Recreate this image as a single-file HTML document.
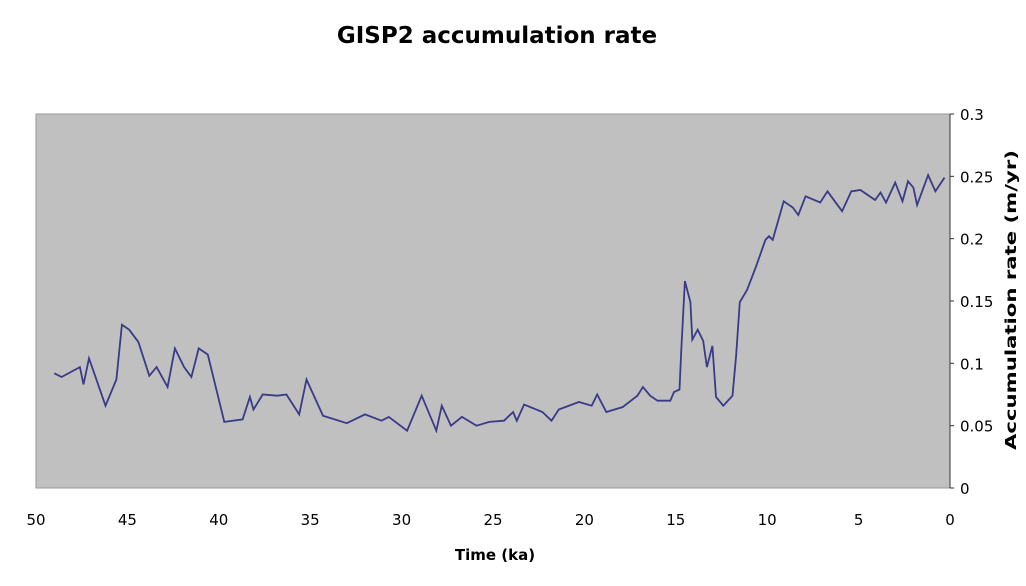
<!DOCTYPE html>
<html><head><meta charset="utf-8"><style>
body{margin:0;background:#fff;}
svg{display:block;font-family:"DejaVu Sans","Liberation Sans",sans-serif;}
</style></head><body>
<svg id="chart" width="1026" height="586" viewBox="0 0 1026 586">
<text x="497" y="43" text-anchor="middle" font-size="23" font-weight="bold" fill="#000">GISP2 accumulation rate</text>
<rect x="36" y="114" width="914" height="374" fill="#c0c0c0" stroke="#999" stroke-width="1"/>
<g id="xaxis"></g>
<g id="yaxis"></g>
<text x="495" y="560" text-anchor="middle" font-size="15" font-weight="bold">Time (ka)</text>
<text transform="translate(1016,300) rotate(-90)" text-anchor="middle" font-size="15" font-weight="bold" textLength="300" lengthAdjust="spacingAndGlyphs">Accumulation rate (m/yr)</text>
<g id="series"></g>
</svg>
<script>
const ages=[49.0,48.6,47.6,47.4,47.1,46.2,45.6,45.3,44.9,44.4,43.8,43.4,42.8,42.4,41.9,41.5,41.1,40.6,39.7,38.7,38.3,38.1,37.6,36.8,36.3,35.6,35.2,34.3,33.0,32.0,31.1,30.7,29.7,28.9,28.1,27.8,27.3,26.7,25.9,25.2,24.4,23.9,23.7,23.3,22.3,21.8,21.4,20.3,19.6,19.3,18.8,17.9,17.1,16.8,16.4,16.0,15.3,15.1,14.8,14.7,14.5,14.2,14.1,13.8,13.5,13.3,13.0,12.8,12.4,11.9,11.7,11.5,11.1,10.6,10.1,9.9,9.7,9.1,8.6,8.3,7.9,7.1,6.7,6.3,5.9,5.4,4.9,4.1,3.8,3.5,3.0,2.6,2.3,2.0,1.8,1.2,0.8,0.3];
const rates=[0.092,0.089,0.097,0.083,0.104,0.066,0.087,0.131,0.127,0.117,0.090,0.097,0.081,0.112,0.097,0.089,0.112,0.107,0.053,0.055,0.073,0.063,0.075,0.074,0.075,0.059,0.087,0.058,0.052,0.059,0.054,0.057,0.046,0.074,0.046,0.066,0.050,0.057,0.050,0.053,0.054,0.061,0.054,0.067,0.061,0.054,0.063,0.069,0.066,0.075,0.061,0.065,0.074,0.081,0.074,0.070,0.070,0.077,0.079,0.111,0.166,0.149,0.119,0.127,0.118,0.097,0.114,0.073,0.066,0.074,0.106,0.149,0.159,0.178,0.199,0.202,0.199,0.230,0.225,0.219,0.234,0.229,0.238,0.230,0.222,0.238,0.239,0.231,0.237,0.229,0.245,0.230,0.246,0.241,0.227,0.251,0.238,0.249];
const xTicks=[50,45,40,35,30,25,20,15,10,5,0];
const yTicks=[0,0.05,0.1,0.15,0.2,0.25,0.3];
const NS="http://www.w3.org/2000/svg";
const X0=36,X1=950,Y0=488,Y1=114;
function sx(k){return X0+(50-k)/50*(X1-X0);}
function sy(v){return Y0-v/0.3*(Y0-Y1);}
const xa=document.getElementById('xaxis'),ya=document.getElementById('yaxis');
xTicks.forEach(t=>{
  const tx=document.createElementNS(NS,'text');
  tx.setAttribute('x',sx(t));tx.setAttribute('y',525);tx.setAttribute('text-anchor','middle');tx.setAttribute('font-size','15');
  tx.textContent=t;
  
  
  xa.appendChild(tx);
});
const axl=document.createElementNS(NS,'line');
axl.setAttribute('x1',X1);axl.setAttribute('x2',X1);axl.setAttribute('y1',Y1);axl.setAttribute('y2',Y0);axl.setAttribute('stroke','#333');


ya.appendChild(axl);
yTicks.forEach(t=>{
  const l=document.createElementNS(NS,'line');
  l.setAttribute('x1',X1);l.setAttribute('x2',X1+4);l.setAttribute('y1',sy(t));l.setAttribute('y2',sy(t));l.setAttribute('stroke','#333');
  
  
  ya.appendChild(l);
  const tx=document.createElementNS(NS,'text');
  tx.setAttribute('x',960);tx.setAttribute('y',sy(t)+6);tx.setAttribute('font-size','15');
  tx.textContent=t;
  
  
  ya.appendChild(tx);
});
const p=document.createElementNS(NS,'polyline');
p.setAttribute('points',ages.map((a,i)=>sx(a).toFixed(1)+','+sy(rates[i]).toFixed(1)).join(' '));
p.setAttribute('fill','none');p.setAttribute('stroke','#3a3a88');p.setAttribute('stroke-width','1.8');


document.getElementById('series').appendChild(p);
</script>
</body></html>
